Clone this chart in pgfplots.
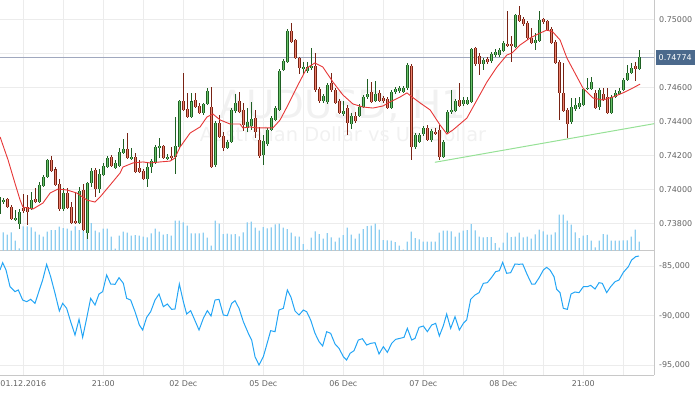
\documentclass[border=0pt]{standalone}
\usepackage{pgfplots}
\pgfplotsset{compat=1.18}
\usepackage{pgfplotstable}
\usepackage{fontspec}
\setmainfont{DejaVu Sans}

\definecolor{gridc}{RGB}{236,236,236}
\definecolor{axc}{RGB}{200,200,200}
\definecolor{labc}{RGB}{100,100,100}
\definecolor{upfill}{RGB}{105,195,105}
\definecolor{upline}{RGB}{30,95,35}
\definecolor{dnfill}{RGB}{238,130,110}
\definecolor{dnline}{RGB}{120,35,20}
\definecolor{volc}{RGB}{140,205,240}
\definecolor{mac}{RGB}{230,55,55}
\definecolor{oscc}{RGB}{35,165,245}
\definecolor{trendc}{RGB}{150,225,150}
\definecolor{cpline}{RGB}{160,168,190}
\definecolor{cpbox}{RGB}{75,105,140}
\definecolor{wmc}{RGB}{241,241,241}

\pgfplotstableread{
x o h l c
-1 0.73855 0.73967 0.73849 0.73955
0 0.73925 0.73949 0.73914 0.73937
3 0.73819 0.73878 0.73814 0.73831
4 0.73796 0.73884 0.73766 0.73867
7 0.73884 0.73984 0.73878 0.73937
9 0.73925 0.74043 0.73919 0.74025
10 0.74019 0.74084 0.74014 0.74072
11 0.74072 0.74178 0.74067 0.74172
15 0.73884 0.74008 0.73872 0.73978
19 0.73802 0.74014 0.73796 0.73990
21 0.73743 0.74043 0.73708 0.74037
22 0.74037 0.74125 0.74014 0.74108
24 0.74002 0.74119 0.73978 0.74090
25 0.74084 0.74155 0.74078 0.74137
26 0.74131 0.74196 0.74125 0.74184
28 0.74125 0.74172 0.74119 0.74155
29 0.74137 0.74243 0.74131 0.74219
30 0.74214 0.74296 0.74208 0.74237
32 0.74178 0.74243 0.74172 0.74190
36 0.74061 0.74155 0.74014 0.74131
37 0.74131 0.74178 0.74096 0.74167
38 0.74155 0.74261 0.74149 0.74249
39 0.74243 0.74302 0.74184 0.74255
41 0.74184 0.74208 0.74172 0.74190
43 0.74190 0.74425 0.74090 0.74255
44 0.74249 0.74525 0.74243 0.74519
47 0.74425 0.74567 0.74419 0.74519
50 0.74449 0.74508 0.74437 0.74502
51 0.74502 0.74596 0.74496 0.74578
53 0.74143 0.74402 0.74131 0.74390
56 0.74243 0.74290 0.74237 0.74278
57 0.74278 0.74478 0.74272 0.74467
58 0.74461 0.74561 0.74449 0.74508
61 0.74361 0.74478 0.74337 0.74396
62 0.74372 0.74514 0.74349 0.74414
65 0.74202 0.74319 0.74143 0.74284
66 0.74267 0.74361 0.74255 0.74349
67 0.74349 0.74431 0.74343 0.74419
68 0.74408 0.74490 0.74402 0.74478
69 0.74467 0.74708 0.74461 0.74696
70 0.74702 0.74767 0.74696 0.74755
71 0.74749 0.74943 0.74743 0.74931
75 0.74708 0.74749 0.74678 0.74719
76 0.74696 0.74749 0.74684 0.74719
77 0.74714 0.74831 0.74702 0.74725
80 0.74519 0.74561 0.74508 0.74549
81 0.74514 0.74625 0.74502 0.74614
85 0.74443 0.74519 0.74431 0.74461
87 0.74384 0.74449 0.74355 0.74431
89 0.74431 0.74502 0.74425 0.74484
90 0.74484 0.74555 0.74478 0.74543
91 0.74543 0.74649 0.74531 0.74561
93 0.74519 0.74637 0.74514 0.74561
97 0.74478 0.74584 0.74472 0.74572
98 0.74572 0.74602 0.74561 0.74590
99 0.74578 0.74608 0.74567 0.74596
100 0.74572 0.74608 0.74567 0.74596
101 0.74596 0.74743 0.74584 0.74731
103 0.74249 0.74331 0.74237 0.74319
104 0.74278 0.74331 0.74272 0.74319
105 0.74325 0.74372 0.74314 0.74361
107 0.74290 0.74355 0.74278 0.74343
110 0.74190 0.74290 0.74184 0.74278
111 0.74337 0.74467 0.74331 0.74455
112 0.74455 0.74584 0.74443 0.74467
113 0.74461 0.74531 0.74455 0.74519
115 0.74502 0.74543 0.74490 0.74525
116 0.74502 0.74543 0.74496 0.74525
117 0.74514 0.74831 0.74508 0.74825
120 0.74737 0.74772 0.74702 0.74761
122 0.74755 0.74808 0.74743 0.74796
123 0.74790 0.74825 0.74778 0.74808
124 0.74790 0.74831 0.74778 0.74819
125 0.74814 0.74872 0.74808 0.74861
128 0.74837 0.75031 0.74831 0.75025
133 0.74861 0.74919 0.74819 0.74878
134 0.74872 0.75049 0.74867 0.74996
142 0.74396 0.74537 0.74384 0.74484
143 0.74472 0.74537 0.74461 0.74496
144 0.74484 0.74543 0.74472 0.74508
145 0.74496 0.74596 0.74490 0.74590
146 0.74590 0.74655 0.74584 0.74596
147 0.74590 0.74661 0.74584 0.74631
149 0.74484 0.74596 0.74467 0.74584
152 0.74449 0.74555 0.74443 0.74543
153 0.74543 0.74584 0.74537 0.74567
154 0.74561 0.74596 0.74555 0.74578
155 0.74584 0.74655 0.74578 0.74643
156 0.74643 0.74731 0.74637 0.74684
157 0.74684 0.74743 0.74678 0.74714
159 0.74708 0.74819 0.74702 0.74778
}\upT

\pgfplotstableread{
x o h l c
1 0.73943 0.73949 0.73890 0.73896
2 0.73896 0.73908 0.73819 0.73825
5 0.73890 0.73972 0.73861 0.73872
6 0.73896 0.73967 0.73790 0.73867
8 0.73943 0.74008 0.73919 0.73925
12 0.74172 0.74196 0.74102 0.74108
13 0.74119 0.74131 0.74019 0.74025
14 0.74031 0.74061 0.73872 0.73884
16 0.73978 0.74008 0.73884 0.73890
17 0.73896 0.73925 0.73796 0.73802
18 0.73814 0.73984 0.73796 0.73802
20 0.73996 0.74031 0.73755 0.73761
23 0.74114 0.74125 0.73955 0.74002
27 0.74190 0.74202 0.74131 0.74137
31 0.74237 0.74331 0.74178 0.74184
33 0.74190 0.74214 0.74096 0.74102
34 0.74125 0.74172 0.74096 0.74102
35 0.74108 0.74119 0.74055 0.74061
40 0.74255 0.74261 0.74178 0.74184
42 0.74196 0.74249 0.74172 0.74184
45 0.74519 0.74684 0.74461 0.74467
46 0.74472 0.74567 0.74419 0.74425
48 0.74525 0.74567 0.74478 0.74484
49 0.74490 0.74508 0.74443 0.74449
52 0.74484 0.74602 0.74125 0.74131
54 0.74390 0.74437 0.74302 0.74308
55 0.74314 0.74337 0.74225 0.74243
59 0.74519 0.74572 0.74449 0.74455
60 0.74467 0.74508 0.74343 0.74378
63 0.74419 0.74467 0.74302 0.74337
64 0.74290 0.74367 0.74184 0.74196
72 0.74931 0.74978 0.74861 0.74867
73 0.74878 0.74884 0.74767 0.74772
74 0.74772 0.74778 0.74678 0.74714
78 0.74725 0.74802 0.74572 0.74584
79 0.74590 0.74602 0.74508 0.74519
82 0.74625 0.74684 0.74572 0.74584
83 0.74584 0.74596 0.74502 0.74508
84 0.74519 0.74531 0.74443 0.74449
86 0.74478 0.74496 0.74319 0.74390
88 0.74431 0.74455 0.74390 0.74402
92 0.74572 0.74631 0.74508 0.74514
94 0.74567 0.74584 0.74514 0.74519
95 0.74537 0.74549 0.74508 0.74519
96 0.74531 0.74543 0.74472 0.74478
102 0.74725 0.74737 0.74172 0.74249
106 0.74361 0.74378 0.74284 0.74290
108 0.74337 0.74361 0.74319 0.74331
109 0.74349 0.74378 0.74172 0.74190
114 0.74525 0.74625 0.74484 0.74490
118 0.74831 0.74837 0.74725 0.74737
119 0.74784 0.74802 0.74672 0.74737
121 0.74767 0.74778 0.74737 0.74749
126 0.74855 0.75049 0.74837 0.74843
127 0.74855 0.74902 0.74749 0.74843
129 0.75025 0.75078 0.74984 0.74990
130 0.75002 0.75014 0.74961 0.74972
131 0.74978 0.74990 0.74878 0.74890
132 0.74890 0.74949 0.74855 0.74861
135 0.75002 0.75008 0.74972 0.74984
136 0.74990 0.74996 0.74931 0.74937
137 0.74943 0.74955 0.74855 0.74861
138 0.74867 0.74878 0.74737 0.74743
139 0.74749 0.74761 0.74408 0.74567
140 0.74567 0.74743 0.74455 0.74461
141 0.74467 0.74478 0.74302 0.74384
148 0.74567 0.74584 0.74472 0.74478
150 0.74561 0.74596 0.74519 0.74525
151 0.74543 0.74596 0.74443 0.74449
158 0.74725 0.74749 0.74637 0.74708
}\dnT

\pgfplotstableread{
x v
0 1830
1 1600
2 1830
3 1000
4 230
5 2430
6 2430
7 2330
8 1900
9 1600
10 1400
11 1900
12 2070
13 2070
14 2400
15 2270
16 2200
17 2000
18 2430
19 2070
20 2230
21 2670
22 2770
23 2000
24 1830
25 2200
26 2200
27 1400
28 200
29 1500
30 1900
31 1800
32 1500
33 1570
34 1500
35 1400
36 1330
37 1730
38 2200
39 1900
40 1600
41 1670
42 1500
43 3000
44 3000
45 2830
46 2500
47 1730
48 1730
49 1730
50 1800
51 1300
52 500
53 3000
54 2700
55 1670
56 1700
57 1630
58 1670
59 1430
60 1830
61 2830
62 2900
63 2300
64 2000
65 2370
66 2230
67 2330
68 2630
69 2700
70 2300
71 2170
72 1800
73 1430
74 1400
75 670
76 100
77 1300
78 1930
79 1670
80 1200
81 1770
82 1330
83 900
84 1300
85 1570
86 2300
87 1600
88 1200
89 1700
90 2170
91 2470
92 2500
93 2700
94 2100
95 1070
96 1030
97 1000
98 870
99 500
100 100
101 900
102 1900
103 1270
104 1130
105 900
106 900
107 900
108 900
109 1800
110 2000
111 2000
112 1930
113 1400
114 1800
115 2000
116 2070
117 2670
118 2030
119 1400
120 1330
121 1370
122 1370
123 770
124 300
125 800
126 1800
127 1370
128 1400
129 1800
130 1330
131 1400
132 1200
133 1630
134 2100
135 1930
136 1600
137 1600
138 1830
139 3600
140 3600
141 3000
142 2600
143 1830
144 1270
145 1500
146 1570
147 1000
148 330
149 1000
150 1670
151 1600
152 1000
153 1000
154 1000
155 1030
156 1030
157 1400
158 2100
159 900
}\volT

\pgfplotstableread{
x y
-0.8 0.74308
1.2 0.74172
2.9 0.74037
4.2 0.73937
4.9 0.73896
7.4 0.73884
9.9 0.73919
11.7 0.73978
13.7 0.74002
15.9 0.73996
18.4 0.73978
20.9 0.73937
22.9 0.73925
24.2 0.73955
26.7 0.74025
29.2 0.74096
29.9 0.74131
32.4 0.74155
34.9 0.74161
36.7 0.74155
39.2 0.74161
41.7 0.74166
42.9 0.74184
44.2 0.74249
46.7 0.74331
49.2 0.74367
50.9 0.74425
52.4 0.74443
54.2 0.74408
56.7 0.74384
59.2 0.74384
59.9 0.74361
61.7 0.74367
63.4 0.74361
64.9 0.74361
67.4 0.74361
69.2 0.74408
70.9 0.74484
73.4 0.74602
75.9 0.74714
77.9 0.74743
79.9 0.74719
82.4 0.74631
84.9 0.74555
87.4 0.74502
89.9 0.74484
92.4 0.74478
94.9 0.74490
96.7 0.74514
99.2 0.74543
100.9 0.74567
102.2 0.74543
104.2 0.74508
106.7 0.74467
109.2 0.74378
110.9 0.74325
112.4 0.74349
115.9 0.74419
118.4 0.74525
120.9 0.74631
123.4 0.74719
125.9 0.74790
127.2 0.74802
129.2 0.74849
131.7 0.74890
134.2 0.74919
135.9 0.74937
137.4 0.74925
139.2 0.74878
140.9 0.74772
142.9 0.74684
144.9 0.74596
147.4 0.74537
149.9 0.74525
152.4 0.74543
154.9 0.74567
157.4 0.74596
159.2 0.74619
}\maT

\pgfplotstableread{
x y
-0.83 -85404
-0.16 -84664
0.68 -85404
1.68 -87088
2.93 -87593
3.76 -87425
4.84 -88435
5.84 -88603
6.84 -88367
7.93 -88771
9.01 -87425
9.84 -86414
10.84 -84832
11.84 -86078
12.93 -87761
14.01 -89546
14.84 -88771
15.84 -89276
16.84 -90623
17.93 -91970
18.93 -90387
19.84 -92206
20.84 -90286
21.84 -88266
22.93 -88940
23.93 -87829
24.84 -87593
25.84 -85910
26.84 -86818
27.93 -86852
28.93 -86179
30.01 -86751
30.84 -88266
31.84 -88435
32.93 -89613
34.01 -90960
34.84 -91465
35.84 -90185
36.84 -89613
37.93 -88435
38.93 -87829
40.01 -89108
41.01 -88839
42.09 -89378
42.93 -89344
44.01 -86818
45.01 -88603
45.84 -89849
46.84 -89512
47.93 -90522
48.93 -91465
50.01 -90286
51.01 -89512
51.93 -90051
52.93 -88435
53.93 -88367
55.01 -89950
56.01 -90017
57.09 -88771
57.93 -88502
58.93 -89276
60.01 -90623
61.26 -91802
62.09 -92475
62.93 -94159
63.93 -95000
65.01 -94159
65.84 -92980
66.84 -91532
67.93 -91633
68.93 -89445
70.01 -89276
71.01 -87425
71.93 -88165
72.93 -89546
73.93 -89950
75.01 -89445
75.84 -89613
76.84 -90455
77.93 -91802
78.93 -92643
79.84 -93081
80.84 -91633
81.84 -91802
82.93 -92879
83.93 -93317
85.01 -94159
85.84 -94495
86.68 -93822
87.68 -93552
88.76 -92475
89.76 -92340
90.84 -92980
91.84 -92812
92.93 -92744
93.93 -93889
95.01 -93148
96.01 -93721
97.09 -92812
98.09 -92408
99.18 -92307
100.18 -92206
101.01 -91297
102.09 -92475
102.93 -92307
103.93 -91196
105.01 -91061
106.01 -91633
107.09 -90960
108.09 -90792
109.01 -92071
110.01 -91027
110.84 -89849
111.84 -91297
112.93 -90118
114.01 -91465
115.01 -90792
115.84 -90455
116.84 -88367
117.93 -87930
118.93 -87694
120.01 -86751
121.01 -86684
122.09 -86145
123.09 -85573
124.01 -85472
124.84 -84630
125.84 -85741
126.84 -85674
127.93 -84798
128.93 -84832
129.84 -84798
131.01 -85910
132.09 -86818
132.93 -86818
134.01 -86145
135.01 -85404
135.84 -85135
136.68 -85404
137.68 -86078
138.34 -87357
139.18 -87694
140.01 -89276
141.01 -89378
141.93 -87829
142.93 -87627
143.93 -87694
145.01 -87088
146.01 -87088
146.84 -86953
147.93 -87324
148.93 -86684
149.76 -86751
150.84 -87694
151.84 -87088
152.93 -86583
153.93 -86414
155.01 -85640
156.26 -85068
157.09 -84394
158.09 -84058
158.93 -83990
}\oscT

\begin{document}
\begin{tikzpicture}[x=1bp,y=1bp]
\useasboundingbox (0,0) rectangle (700,394);
\pgfplotsset{
  base/.style={scale only axis, width=654bp, xmin=-0.825, xmax=162.675},
  price/.style={base, height=250.7bp, ymin=0.736389, ymax=0.751135},
  gridset/.style={
    axis x line=bottom, axis y line=right,
    axis line style={-, draw=axc, line width=0.8bp},
    xtick={5,25,45,65,85,105,125,145},
    minor xtick={15,35,55,75,95,115,135,155},
    grid=both, major grid style={draw=gridc, line width=0.8bp},
    minor grid style={draw=gridc, line width=0.8bp},
    major tick length=0pt, minor tick length=0pt,
    yticklabel style={font=\fontsize{8}{9}\selectfont, text=labc, anchor=west, inner sep=0pt, xshift=5bp},
    xticklabel style={font=\fontsize{8}{9}\selectfont, text=labc, anchor=north, inner sep=0pt, yshift=-5bp},
  },
  /pgf/number format/assume math mode=true,
  candle/.style 2 args={forget plot, draw=none, mark=none, no markers, error bars/.cd, y dir=both, y explicit, error mark=none,
    error bar style={line width=#1, draw=#2, solid}},
}
% price grid and labels (0.74800 sits under the current-price box)
\begin{axis}[price, gridset, at={(0bp,143.3bp)}, anchor=south west, xticklabels={},
  ytick={0.738,0.740,0.742,0.744,0.746,0.748,0.750}, scaled y ticks=false,
  yticklabels={0.73800,0.74000,0.74200,0.74400,0.74600,,0.75000}]
\node[font=\fontsize{39}{40}\selectfont, text=wmc, anchor=base] at (axis description cs:0.5245,0.5293) {AUDUSD, H1};
\node[font=\fontsize{19.5}{20}\selectfont, text=wmc, anchor=base] at (axis description cs:0.5245,0.4336) {Australian Dollar vs US Dollar};
\end{axis}
% volume
\begin{axis}[base, at={(0bp,143.3bp)}, anchor=south west, height=250.7bp, ymin=0, ymax=25070, hide axis]
\addplot[ybar, bar width=1.2bp, bar shift=0pt, fill=volc, draw=none] table[x=x,y=v]{\volT};
\end{axis}
% candles
\begin{axis}[price, at={(0bp,143.3bp)}, anchor=south west, hide axis]
\addplot[cpline, line width=0.8bp, forget plot] coordinates {(-1,0.74774) (163,0.74774)};
\addplot[trendc, line width=1bp, forget plot] coordinates {(107.9,0.74159) (162.7,0.74386)};
% wicks
\addplot[candle={1bp}{upline}]
  table[x=x, y expr={(\thisrow{h}+\thisrow{l})/2}, y error expr={(\thisrow{h}-\thisrow{l})/2}]{\upT};
\addplot[candle={1bp}{dnline}]
  table[x=x, y expr={(\thisrow{h}+\thisrow{l})/2}, y error expr={(\thisrow{h}-\thisrow{l})/2}]{\dnT};
% body outlines
\addplot[candle={3bp}{upline}]
  table[x=x, y expr={(\thisrow{o}+\thisrow{c})/2}, y error expr={max(abs(\thisrow{c}-\thisrow{o})/2,0.000005)}]{\upT};
\addplot[candle={3bp}{dnline}]
  table[x=x, y expr={(\thisrow{o}+\thisrow{c})/2}, y error expr={max(abs(\thisrow{c}-\thisrow{o})/2,0.000005)}]{\dnT};
% body fills
\addplot[candle={1.2bp}{upfill}]
  table[x=x, y expr={(\thisrow{o}+\thisrow{c})/2}, y error expr={max(abs(\thisrow{c}-\thisrow{o})/2-0.0000059,0)}]{\upT};
\addplot[candle={1.2bp}{dnfill}]
  table[x=x, y expr={(\thisrow{o}+\thisrow{c})/2}, y error expr={max(abs(\thisrow{c}-\thisrow{o})/2-0.0000059,0)}]{\dnT};
% moving average
\addplot[mac, line width=0.9bp, no markers] table[x=x,y=y]{\maT};
\coordinate (cp) at (rel axis cs:1,0.7698);
\end{axis}
\node[fill=cpbox, text=white, font=\fontsize{8}{9}\selectfont, anchor=west, inner xsep=3bp, inner ysep=0pt, minimum height=15bp] at ([xshift=1.5bp]cp) {0.74774};
% oscillator
\begin{axis}[base, gridset, at={(0bp,19bp)}, anchor=south west, height=124.3bp, ymin=-96009, ymax=-83455,
  xticklabels={01.12.2016,21:00,02 Dec,05 Dec,06 Dec,07 Dec,08 Dec,21:00},
  ytick={-95000,-90000,-85000}, scaled y ticks=false,
  yticklabel style={/pgf/number format/fixed, /pgf/number format/precision=0, /pgf/number format/1000 sep={,}}]
\addplot[oscc, line width=1bp, no markers] table[x=x,y=y]{\oscT};
\end{axis}
\end{tikzpicture}
\end{document}
